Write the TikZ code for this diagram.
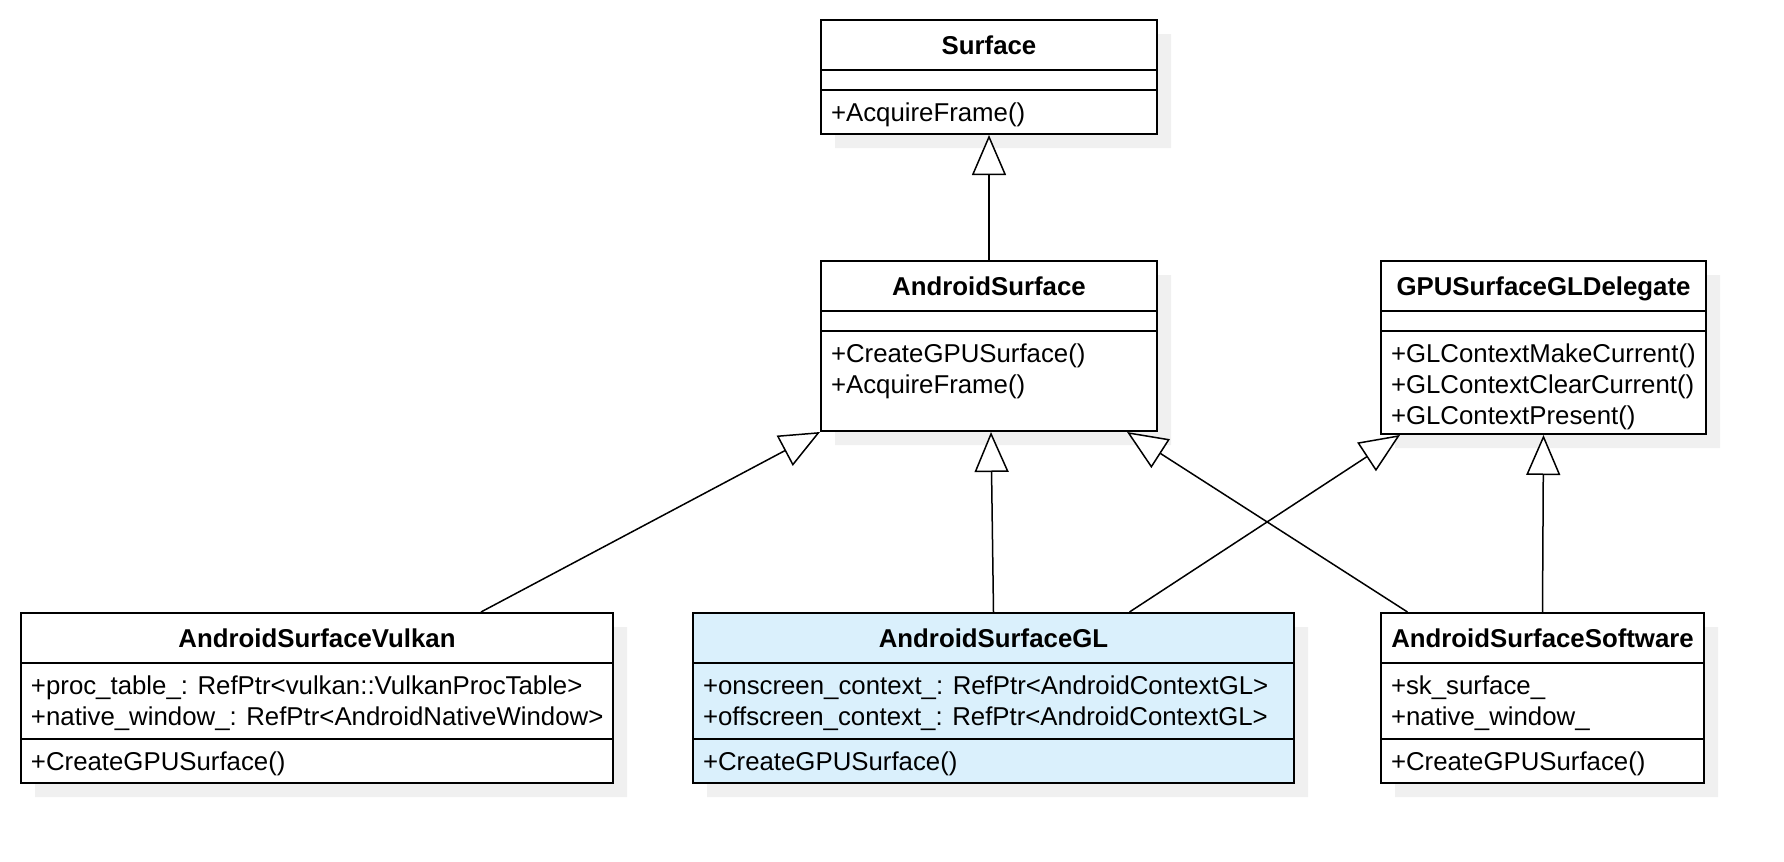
\documentclass[tikz,border=0pt]{standalone}
\usepackage{fontspec}
\setmainfont{Liberation Sans}
\usetikzlibrary{shapes.multipart, shadows, arrows.meta}
\definecolor{glblue}{RGB}{218,240,252}
\newlength\classw
% part heights less one line width, which the split shape adds per part
\newcommand{\classhead}[1]{\parbox[c][24pt][t]{\classw}{\centering\rule{0pt}{16.6pt}\bfseries #1}}
\newcommand{\classgap}{\parbox[c][9pt]{\classw}{}}
\newcommand{\classpart}[2]{\parbox[c][\dimexpr#1-1pt\relax][t]{\classw}{\raggedright\leftskip=5pt\rule{0pt}{15.3pt}#2}}
\tikzset{
    classnode/.style={
        rectangle split,
        rectangle split parts=3,
        draw=black, % frame and split lines
        fill=white,
        line width=1pt,
        inner sep=0,
        anchor=north west,
        font=\fontsize{12.9pt}{15.5pt}\selectfont,
        drop shadow={shadow xshift=7pt, shadow yshift=-7pt, fill=black!6, opacity=1}
    },
    extends/.style={
        line width=0.75pt,
        -{Triangle[fill=white, length=20pt, width=17pt]} % hollow triangle
    }
}

\begin{document}
\begin{tikzpicture}[x=0.5pt, y=-0.5pt]
    \useasboundingbox (0,0) rectangle (1784,862);
    % base classes
    \setlength\classw{168pt}
    \node[classnode] (surface) at (820,19) {\classhead{Surface}
        \nodepart{two}\classgap
        \nodepart{three}\classpart{22pt}{+AcquireFrame()}};
    \node[classnode] (androidsurface) at (820,260) {\classhead{AndroidSurface}
        \nodepart{two}\classgap
        \nodepart{three}\classpart{50pt}{+CreateGPUSurface()\\+AcquireFrame()}};
    \setlength\classw{162.5pt}
    \node[classnode] (delegate) at (1380,260) {\classhead{GPUSurfaceGLDelegate}
        \nodepart{two}\classgap
        \nodepart{three}\classpart{51.5pt}{+GLContextMakeCurrent()\\+GLContextClearCurrent()\\+GLContextPresent()}};
    % implementations
    \setlength\classw{296pt}
    \node[classnode] (vulkan) at (20,612) {\classhead{AndroidSurfaceVulkan}
        \nodepart{two}\classpart{38pt}{+proc\_table\_: RefPtr<vulkan::VulkanProcTable>\\+native\_window\_: RefPtr<AndroidNativeWindow>}
        \nodepart{three}\classpart{22pt}{+CreateGPUSurface()}};
    \setlength\classw{300.5pt}
    \node[classnode, fill=glblue] (gl) at (692,612) {\classhead{AndroidSurfaceGL}
        \nodepart{two}\classpart{38pt}{+onscreen\_context\_: RefPtr<AndroidContextGL>\\+offscreen\_context\_: RefPtr<AndroidContextGL>}
        \nodepart{three}\classpart{22pt}{+CreateGPUSurface()}};
    \setlength\classw{161.5pt}
    \node[classnode] (software) at (1380,612) {\classhead{AndroidSurfaceSoftware}
        \nodepart{two}\classpart{38pt}{+sk\_surface\_\\+native\_window\_}
        \nodepart{three}\classpart{22pt}{+CreateGPUSurface()}};
    % inheritance
    \draw[extends] (androidsurface.north) -- (surface.south);
    \draw[extends] ([xshift=82pt]vulkan.north) -- (androidsurface.south west);
    \draw[extends] (gl.north) -- ([xshift=1pt]androidsurface.south);
    \draw[extends] ([xshift=-67.5pt]software.north) -- ([xshift=-15.5pt]androidsurface.south east);
    \draw[extends] ([xshift=68pt]gl.north) -- ([xshift=10pt]delegate.south west);
    \draw[extends] (software.north) -- (delegate.south);
\end{tikzpicture}
\end{document}
